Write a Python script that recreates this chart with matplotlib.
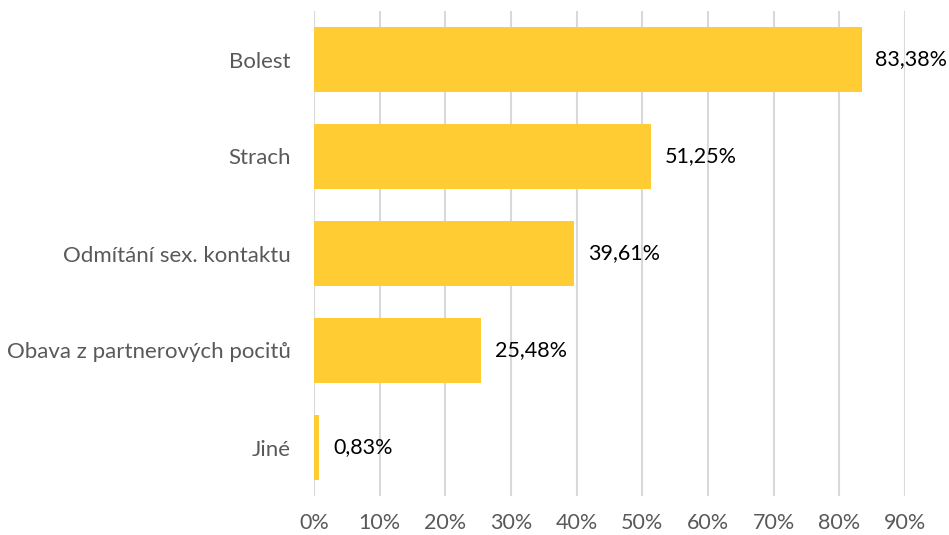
import matplotlib
matplotlib.use("Agg")
import matplotlib.pyplot as plt
from matplotlib.ticker import FuncFormatter

categories = ["Bolest", "Strach", "Odmítání sex. kontaktu",
              "Obava z partnerových pocitů", "Jiné"]
values = [83.38, 51.25, 39.61, 25.48, 0.83]
x_ticks = [0, 10, 20, 30, 40, 50, 60, 70, 80, 90]

plt.rcParams['font.family'] = ['Lato', 'DejaVu Sans']
fs = 15.5

fig = plt.figure(figsize=(9.49, 5.35), dpi=100)
ax = fig.add_axes([314 / 949, 1 - 496 / 535, 591 / 949, 485 / 535])

pos = list(range(len(categories)))[::-1]
bars = ax.barh(pos, values, height=0.66, color="#FFCD33", zorder=3)

for b, v in zip(bars, values):
    lab = f"{v:.2f}".replace(".", ",") + "%"
    ax.annotate(lab, (b.get_width(), b.get_y() + b.get_height() / 2),
                xytext=(10, 0), textcoords="offset points",
                ha="left", va="center", fontsize=fs, color="black")

ax.set_xlim(0, 90)
ax.set_ylim(-0.5, len(categories) - 0.5)
ax.set_xticks(x_ticks)
ax.xaxis.set_major_formatter(FuncFormatter(lambda x, p: f"{x:.0f}%"))
ax.set_yticks(pos)
ax.set_yticklabels(categories)
ax.grid(axis="x", color="#D9D9D9", linewidth=1.5, zorder=0)
for s in ax.spines.values():
    s.set_visible(False)
ax.tick_params(axis="both", length=0, labelsize=fs, colors="#595959")
ax.tick_params(axis="y", pad=17, labelsize=16)
ax.tick_params(axis="x", pad=12)

fig.savefig("out.png", dpi=100)
